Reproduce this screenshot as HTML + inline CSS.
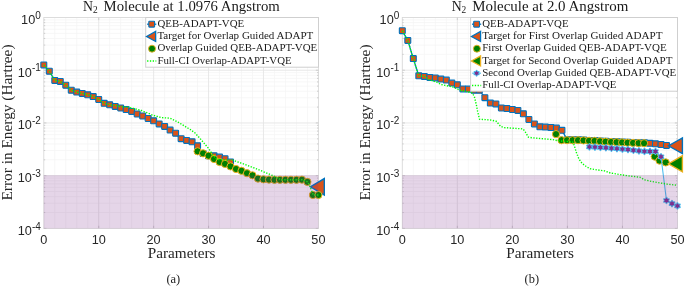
<!DOCTYPE html>
<html><head><meta charset="utf-8"><title>N2 Molecule ADAPT-VQE</title>
<style>
html,body{margin:0;padding:0;background:#fff}
svg{display:block}
.tk{font-family:"Liberation Sans",Arial,sans-serif;font-size:12.7px;fill:#262626}
.lg{font-family:"Liberation Serif","Times New Roman",serif;font-size:10.3px;fill:#1a1a1a}
.ti{font-family:"Liberation Serif","Times New Roman",serif;font-size:13.8px;fill:#1a1a1a}
.lb{font-family:"Liberation Serif","Times New Roman",serif;font-size:14.6px;fill:#262626}
.cp{font-family:"Liberation Serif","Times New Roman",serif;font-size:12.2px;fill:#222}
</style></head>
<body>
<svg width="685" height="286" viewBox="0 0 685 286">
<rect width="685" height="286" fill="#fff"/>
<rect x="43.8" y="17.5" width="274.60" height="210.90" fill="#fff"/>
<path d="M54.78 17.5V228.4M65.77 17.5V228.4M76.75 17.5V228.4M87.74 17.5V228.4M109.70 17.5V228.4M120.69 17.5V228.4M131.67 17.5V228.4M142.66 17.5V228.4M164.62 17.5V228.4M175.61 17.5V228.4M186.59 17.5V228.4M197.58 17.5V228.4M219.54 17.5V228.4M230.53 17.5V228.4M241.51 17.5V228.4M252.50 17.5V228.4M274.46 17.5V228.4M285.45 17.5V228.4M296.43 17.5V228.4M307.42 17.5V228.4M43.8 54.35H318.4M43.8 45.07H318.4M43.8 38.48H318.4M43.8 33.37H318.4M43.8 29.20H318.4M43.8 25.67H318.4M43.8 22.61H318.4M43.8 19.91H318.4M43.8 107.08H318.4M43.8 97.79H318.4M43.8 91.21H318.4M43.8 86.10H318.4M43.8 81.92H318.4M43.8 78.39H318.4M43.8 75.33H318.4M43.8 72.64H318.4M43.8 159.80H318.4M43.8 150.52H318.4M43.8 143.93H318.4M43.8 138.82H318.4M43.8 134.65H318.4M43.8 131.12H318.4M43.8 128.06H318.4M43.8 125.36H318.4M43.8 212.53H318.4M43.8 203.24H318.4M43.8 196.66H318.4M43.8 191.55H318.4M43.8 187.37H318.4M43.8 183.84H318.4M43.8 180.78H318.4M43.8 178.09H318.4" stroke="#f4f4f4" stroke-width="0.75" fill="none"/>
<path d="M98.72 17.5V228.4M153.64 17.5V228.4M208.56 17.5V228.4M263.48 17.5V228.4M43.8 70.22H318.4M43.8 122.95H318.4M43.8 175.68H318.4" stroke="#e5e5e5" stroke-width="0.9" fill="none"/>
<rect x="43.8" y="17.5" width="274.60" height="210.90" fill="none" stroke="#d9d9d9" stroke-width="0.9"/>
<path d="M43.8 70.22h2.6M318.4 70.22h-2.6M43.8 54.35h1.4M318.4 54.35h-1.4M43.8 45.07h1.4M318.4 45.07h-1.4M43.8 38.48h1.4M318.4 38.48h-1.4M43.8 33.37h1.4M318.4 33.37h-1.4M43.8 29.20h1.4M318.4 29.20h-1.4M43.8 25.67h1.4M318.4 25.67h-1.4M43.8 22.61h1.4M318.4 22.61h-1.4M43.8 19.91h1.4M318.4 19.91h-1.4M43.8 122.95h2.6M318.4 122.95h-2.6M43.8 107.08h1.4M318.4 107.08h-1.4M43.8 97.79h1.4M318.4 97.79h-1.4M43.8 91.21h1.4M318.4 91.21h-1.4M43.8 86.10h1.4M318.4 86.10h-1.4M43.8 81.92h1.4M318.4 81.92h-1.4M43.8 78.39h1.4M318.4 78.39h-1.4M43.8 75.33h1.4M318.4 75.33h-1.4M43.8 72.64h1.4M318.4 72.64h-1.4M43.8 175.68h2.6M318.4 175.68h-2.6M43.8 159.80h1.4M318.4 159.80h-1.4M43.8 150.52h1.4M318.4 150.52h-1.4M43.8 143.93h1.4M318.4 143.93h-1.4M43.8 138.82h1.4M318.4 138.82h-1.4M43.8 134.65h1.4M318.4 134.65h-1.4M43.8 131.12h1.4M318.4 131.12h-1.4M43.8 128.06h1.4M318.4 128.06h-1.4M43.8 125.36h1.4M318.4 125.36h-1.4M43.8 228.40h2.6M318.4 228.40h-2.6M43.8 212.53h1.4M318.4 212.53h-1.4M43.8 203.24h1.4M318.4 203.24h-1.4M43.8 196.66h1.4M318.4 196.66h-1.4M43.8 191.55h1.4M318.4 191.55h-1.4M43.8 187.37h1.4M318.4 187.37h-1.4M43.8 183.84h1.4M318.4 183.84h-1.4M43.8 180.78h1.4M318.4 180.78h-1.4M43.8 178.09h1.4M318.4 178.09h-1.4M98.72 228.4v-2.6M98.72 17.5v2.6M153.64 228.4v-2.6M153.64 17.5v2.6M208.56 228.4v-2.6M208.56 17.5v2.6M263.48 228.4v-2.6M263.48 17.5v2.6" stroke="#c4c4c4" stroke-width="0.8" fill="none"/>
<path d="M43.80 64.90L49.29 71.20L54.78 80.40L60.28 81.40L65.77 85.20L71.26 90.20L76.75 92.10L82.24 93.40L87.74 94.80L93.23 96.60L98.72 99.50L104.21 103.30L109.70 104.80L115.20 106.40L120.69 108.00L126.18 109.60L131.67 111.40L137.16 114.00L142.66 116.00L148.15 118.50L153.64 120.80L159.13 123.90L164.62 126.40L170.12 130.10L175.61 133.20L181.10 138.70L186.59 140.40L192.08 141.80L197.58 145.80L203.07 153.40L208.56 155.80L214.05 155.80L219.54 157.10L225.04 158.70L230.53 162.00" fill="none" stroke="#0072bd" stroke-width="1.3" stroke-linejoin="round"/>
<rect x="40.85" y="61.95" width="5.9" height="5.9" rx="0.6" fill="#d95319" stroke="#0072bd" stroke-width="1.1"/>
<rect x="46.34" y="68.25" width="5.9" height="5.9" rx="0.6" fill="#d95319" stroke="#0072bd" stroke-width="1.1"/>
<rect x="51.83" y="77.45" width="5.9" height="5.9" rx="0.6" fill="#d95319" stroke="#0072bd" stroke-width="1.1"/>
<rect x="57.33" y="78.45" width="5.9" height="5.9" rx="0.6" fill="#d95319" stroke="#0072bd" stroke-width="1.1"/>
<rect x="62.82" y="82.25" width="5.9" height="5.9" rx="0.6" fill="#d95319" stroke="#0072bd" stroke-width="1.1"/>
<rect x="68.31" y="87.25" width="5.9" height="5.9" rx="0.6" fill="#d95319" stroke="#0072bd" stroke-width="1.1"/>
<rect x="73.80" y="89.15" width="5.9" height="5.9" rx="0.6" fill="#d95319" stroke="#0072bd" stroke-width="1.1"/>
<rect x="79.29" y="90.45" width="5.9" height="5.9" rx="0.6" fill="#d95319" stroke="#0072bd" stroke-width="1.1"/>
<rect x="84.79" y="91.85" width="5.9" height="5.9" rx="0.6" fill="#d95319" stroke="#0072bd" stroke-width="1.1"/>
<rect x="90.28" y="93.65" width="5.9" height="5.9" rx="0.6" fill="#d95319" stroke="#0072bd" stroke-width="1.1"/>
<rect x="95.77" y="96.55" width="5.9" height="5.9" rx="0.6" fill="#d95319" stroke="#0072bd" stroke-width="1.1"/>
<rect x="101.26" y="100.35" width="5.9" height="5.9" rx="0.6" fill="#d95319" stroke="#0072bd" stroke-width="1.1"/>
<rect x="106.75" y="101.85" width="5.9" height="5.9" rx="0.6" fill="#d95319" stroke="#0072bd" stroke-width="1.1"/>
<rect x="112.25" y="103.45" width="5.9" height="5.9" rx="0.6" fill="#d95319" stroke="#0072bd" stroke-width="1.1"/>
<rect x="117.74" y="105.05" width="5.9" height="5.9" rx="0.6" fill="#d95319" stroke="#0072bd" stroke-width="1.1"/>
<rect x="123.23" y="106.65" width="5.9" height="5.9" rx="0.6" fill="#d95319" stroke="#0072bd" stroke-width="1.1"/>
<rect x="128.72" y="108.45" width="5.9" height="5.9" rx="0.6" fill="#d95319" stroke="#0072bd" stroke-width="1.1"/>
<rect x="134.21" y="111.05" width="5.9" height="5.9" rx="0.6" fill="#d95319" stroke="#0072bd" stroke-width="1.1"/>
<rect x="139.71" y="113.05" width="5.9" height="5.9" rx="0.6" fill="#d95319" stroke="#0072bd" stroke-width="1.1"/>
<rect x="145.20" y="115.55" width="5.9" height="5.9" rx="0.6" fill="#d95319" stroke="#0072bd" stroke-width="1.1"/>
<rect x="150.69" y="117.85" width="5.9" height="5.9" rx="0.6" fill="#d95319" stroke="#0072bd" stroke-width="1.1"/>
<rect x="156.18" y="120.95" width="5.9" height="5.9" rx="0.6" fill="#d95319" stroke="#0072bd" stroke-width="1.1"/>
<rect x="161.67" y="123.45" width="5.9" height="5.9" rx="0.6" fill="#d95319" stroke="#0072bd" stroke-width="1.1"/>
<rect x="167.17" y="127.15" width="5.9" height="5.9" rx="0.6" fill="#d95319" stroke="#0072bd" stroke-width="1.1"/>
<rect x="172.66" y="130.25" width="5.9" height="5.9" rx="0.6" fill="#d95319" stroke="#0072bd" stroke-width="1.1"/>
<rect x="178.15" y="135.75" width="5.9" height="5.9" rx="0.6" fill="#d95319" stroke="#0072bd" stroke-width="1.1"/>
<rect x="183.64" y="137.45" width="5.9" height="5.9" rx="0.6" fill="#d95319" stroke="#0072bd" stroke-width="1.1"/>
<rect x="189.13" y="138.85" width="5.9" height="5.9" rx="0.6" fill="#d95319" stroke="#0072bd" stroke-width="1.1"/>
<rect x="194.63" y="142.85" width="5.9" height="5.9" rx="0.6" fill="#d95319" stroke="#0072bd" stroke-width="1.1"/>
<rect x="200.12" y="150.45" width="5.9" height="5.9" rx="0.6" fill="#d95319" stroke="#0072bd" stroke-width="1.1"/>
<rect x="205.61" y="152.85" width="5.9" height="5.9" rx="0.6" fill="#d95319" stroke="#0072bd" stroke-width="1.1"/>
<rect x="211.10" y="152.85" width="5.9" height="5.9" rx="0.6" fill="#d95319" stroke="#0072bd" stroke-width="1.1"/>
<rect x="216.59" y="154.15" width="5.9" height="5.9" rx="0.6" fill="#d95319" stroke="#0072bd" stroke-width="1.1"/>
<rect x="222.09" y="155.75" width="5.9" height="5.9" rx="0.6" fill="#d95319" stroke="#0072bd" stroke-width="1.1"/>
<rect x="227.58" y="159.05" width="5.9" height="5.9" rx="0.6" fill="#d95319" stroke="#0072bd" stroke-width="1.1"/>
<polygon points="310.37,186.80 324.30,178.53 324.30,195.07" fill="#d95319" stroke="#0072bd" stroke-width="1.4" stroke-linejoin="miter"/>
<circle cx="197.58" cy="151.30" r="3.6" fill="#008000" stroke="#edb120" stroke-width="1.0"/>
<circle cx="203.07" cy="153.30" r="3.6" fill="#008000" stroke="#edb120" stroke-width="1.0"/>
<circle cx="208.56" cy="155.70" r="3.6" fill="#008000" stroke="#edb120" stroke-width="1.0"/>
<circle cx="214.05" cy="159.00" r="3.6" fill="#008000" stroke="#edb120" stroke-width="1.0"/>
<circle cx="219.54" cy="162.00" r="3.6" fill="#008000" stroke="#edb120" stroke-width="1.0"/>
<circle cx="225.04" cy="163.90" r="3.6" fill="#008000" stroke="#edb120" stroke-width="1.0"/>
<circle cx="230.53" cy="166.40" r="3.6" fill="#008000" stroke="#edb120" stroke-width="1.0"/>
<circle cx="236.02" cy="169.00" r="3.6" fill="#008000" stroke="#edb120" stroke-width="1.0"/>
<circle cx="241.51" cy="170.80" r="3.6" fill="#008000" stroke="#edb120" stroke-width="1.0"/>
<circle cx="247.00" cy="173.20" r="3.6" fill="#008000" stroke="#edb120" stroke-width="1.0"/>
<circle cx="252.50" cy="175.30" r="3.6" fill="#008000" stroke="#edb120" stroke-width="1.0"/>
<circle cx="257.99" cy="178.60" r="3.6" fill="#008000" stroke="#edb120" stroke-width="1.0"/>
<circle cx="263.48" cy="179.30" r="3.6" fill="#008000" stroke="#edb120" stroke-width="1.0"/>
<circle cx="268.97" cy="179.60" r="3.6" fill="#008000" stroke="#edb120" stroke-width="1.0"/>
<circle cx="274.46" cy="179.80" r="3.6" fill="#008000" stroke="#edb120" stroke-width="1.0"/>
<circle cx="279.96" cy="179.80" r="3.6" fill="#008000" stroke="#edb120" stroke-width="1.0"/>
<circle cx="285.45" cy="179.80" r="3.6" fill="#008000" stroke="#edb120" stroke-width="1.0"/>
<circle cx="290.94" cy="179.80" r="3.6" fill="#008000" stroke="#edb120" stroke-width="1.0"/>
<circle cx="296.43" cy="179.80" r="3.6" fill="#008000" stroke="#edb120" stroke-width="1.0"/>
<circle cx="301.92" cy="179.70" r="3.6" fill="#008000" stroke="#edb120" stroke-width="1.0"/>
<circle cx="307.42" cy="181.90" r="3.6" fill="#008000" stroke="#edb120" stroke-width="1.0"/>
<circle cx="312.91" cy="195.00" r="3.6" fill="#008000" stroke="#edb120" stroke-width="1.0"/>
<circle cx="318.40" cy="195.00" r="3.6" fill="#008000" stroke="#edb120" stroke-width="1.0"/>
<path d="M43.80 64.90L49.29 71.20L54.78 80.40L60.28 81.40L65.77 85.20L71.26 90.20L76.75 92.10L82.24 93.40L87.74 94.80L93.23 96.60L98.72 99.50L104.21 103.30L109.70 104.80L115.20 105.60L120.60 106.60L129.00 107.30L141.50 110.50L152.60 115.10L161.40 117.60L170.20 118.20L177.80 122.00L184.10 125.80L190.40 129.60L195.40 133.30L201.70 140.40L208.90 148.80L213.30 155.70L217.10 159.50L232.80 160.20L245.40 164.60L255.70 168.50L272.50 175.50L278.00 178.30L281.00 179.70L302.30 179.70L308.00 182.00L311.20 189.60L313.20 195.00L318.40 195.00" fill="none" stroke="#00ff00" stroke-width="1.4" stroke-dasharray="1.3 1.5" stroke-linejoin="round"/>
<rect x="43.8" y="175.3" width="274.60" height="53.10" fill="#7e2f8e" fill-opacity="0.2"/>
<text x="40.80" y="23.90" text-anchor="end" class="tk">10<tspan dy="-5.2" font-size="10">0</tspan></text>
<text x="40.80" y="76.62" text-anchor="end" class="tk">10<tspan dy="-5.2" font-size="10">-1</tspan></text>
<text x="40.80" y="129.35" text-anchor="end" class="tk">10<tspan dy="-5.2" font-size="10">-2</tspan></text>
<text x="40.80" y="182.08" text-anchor="end" class="tk">10<tspan dy="-5.2" font-size="10">-3</tspan></text>
<text x="40.80" y="234.80" text-anchor="end" class="tk">10<tspan dy="-5.2" font-size="10">-4</tspan></text>
<text x="43.80" y="243.9" text-anchor="middle" class="tk">0</text>
<text x="98.72" y="243.9" text-anchor="middle" class="tk">10</text>
<text x="153.64" y="243.9" text-anchor="middle" class="tk">20</text>
<text x="208.56" y="243.9" text-anchor="middle" class="tk">30</text>
<text x="263.48" y="243.9" text-anchor="middle" class="tk">40</text>
<text x="318.40" y="243.9" text-anchor="middle" class="tk">50</text>
<rect x="402.3" y="17.5" width="275.20" height="210.90" fill="#fff"/>
<path d="M413.31 17.5V228.4M424.32 17.5V228.4M435.32 17.5V228.4M446.33 17.5V228.4M468.35 17.5V228.4M479.36 17.5V228.4M490.36 17.5V228.4M501.37 17.5V228.4M523.39 17.5V228.4M534.40 17.5V228.4M545.40 17.5V228.4M556.41 17.5V228.4M578.43 17.5V228.4M589.44 17.5V228.4M600.44 17.5V228.4M611.45 17.5V228.4M633.47 17.5V228.4M644.48 17.5V228.4M655.48 17.5V228.4M666.49 17.5V228.4M402.3 54.35H677.5M402.3 45.07H677.5M402.3 38.48H677.5M402.3 33.37H677.5M402.3 29.20H677.5M402.3 25.67H677.5M402.3 22.61H677.5M402.3 19.91H677.5M402.3 107.08H677.5M402.3 97.79H677.5M402.3 91.21H677.5M402.3 86.10H677.5M402.3 81.92H677.5M402.3 78.39H677.5M402.3 75.33H677.5M402.3 72.64H677.5M402.3 159.80H677.5M402.3 150.52H677.5M402.3 143.93H677.5M402.3 138.82H677.5M402.3 134.65H677.5M402.3 131.12H677.5M402.3 128.06H677.5M402.3 125.36H677.5M402.3 212.53H677.5M402.3 203.24H677.5M402.3 196.66H677.5M402.3 191.55H677.5M402.3 187.37H677.5M402.3 183.84H677.5M402.3 180.78H677.5M402.3 178.09H677.5" stroke="#f4f4f4" stroke-width="0.75" fill="none"/>
<path d="M457.34 17.5V228.4M512.38 17.5V228.4M567.42 17.5V228.4M622.46 17.5V228.4M402.3 70.22H677.5M402.3 122.95H677.5M402.3 175.68H677.5" stroke="#e5e5e5" stroke-width="0.9" fill="none"/>
<rect x="402.3" y="17.5" width="275.20" height="210.90" fill="none" stroke="#d9d9d9" stroke-width="0.9"/>
<path d="M402.3 70.22h2.6M677.5 70.22h-2.6M402.3 54.35h1.4M677.5 54.35h-1.4M402.3 45.07h1.4M677.5 45.07h-1.4M402.3 38.48h1.4M677.5 38.48h-1.4M402.3 33.37h1.4M677.5 33.37h-1.4M402.3 29.20h1.4M677.5 29.20h-1.4M402.3 25.67h1.4M677.5 25.67h-1.4M402.3 22.61h1.4M677.5 22.61h-1.4M402.3 19.91h1.4M677.5 19.91h-1.4M402.3 122.95h2.6M677.5 122.95h-2.6M402.3 107.08h1.4M677.5 107.08h-1.4M402.3 97.79h1.4M677.5 97.79h-1.4M402.3 91.21h1.4M677.5 91.21h-1.4M402.3 86.10h1.4M677.5 86.10h-1.4M402.3 81.92h1.4M677.5 81.92h-1.4M402.3 78.39h1.4M677.5 78.39h-1.4M402.3 75.33h1.4M677.5 75.33h-1.4M402.3 72.64h1.4M677.5 72.64h-1.4M402.3 175.68h2.6M677.5 175.68h-2.6M402.3 159.80h1.4M677.5 159.80h-1.4M402.3 150.52h1.4M677.5 150.52h-1.4M402.3 143.93h1.4M677.5 143.93h-1.4M402.3 138.82h1.4M677.5 138.82h-1.4M402.3 134.65h1.4M677.5 134.65h-1.4M402.3 131.12h1.4M677.5 131.12h-1.4M402.3 128.06h1.4M677.5 128.06h-1.4M402.3 125.36h1.4M677.5 125.36h-1.4M402.3 228.40h2.6M677.5 228.40h-2.6M402.3 212.53h1.4M677.5 212.53h-1.4M402.3 203.24h1.4M677.5 203.24h-1.4M402.3 196.66h1.4M677.5 196.66h-1.4M402.3 191.55h1.4M677.5 191.55h-1.4M402.3 187.37h1.4M677.5 187.37h-1.4M402.3 183.84h1.4M677.5 183.84h-1.4M402.3 180.78h1.4M677.5 180.78h-1.4M402.3 178.09h1.4M677.5 178.09h-1.4M457.34 228.4v-2.6M457.34 17.5v2.6M512.38 228.4v-2.6M512.38 17.5v2.6M567.42 228.4v-2.6M567.42 17.5v2.6M622.46 228.4v-2.6M622.46 17.5v2.6" stroke="#c4c4c4" stroke-width="0.8" fill="none"/>
<path d="M402.30 30.70L407.80 40.40L413.31 58.60L418.81 75.80L424.32 76.40L429.82 77.40L435.32 77.90L440.83 79.10L446.33 80.10L451.84 83.10L457.34 84.80L462.84 88.90L468.35 89.10L473.85 90.20L479.36 90.20L484.86 97.70L490.36 103.10L495.87 103.90L501.37 108.00L506.88 108.50L512.38 109.50L517.88 110.40L523.39 113.80L528.89 119.50L534.40 123.90L539.90 126.80L545.40 127.10L550.91 127.50L556.41 128.10L561.92 130.30L567.42 139.80L572.92 139.80L578.43 139.80L583.93 140.00L589.44 140.40L594.94 140.50L600.44 140.90L605.95 141.30L611.45 141.60L616.96 141.80L622.46 142.00L627.96 142.30L633.47 142.50L638.97 142.70L644.48 142.80L649.98 143.30L655.48 143.80L660.99 144.50L666.49 145.40" fill="none" stroke="#0072bd" stroke-width="1.3" stroke-linejoin="round"/>
<rect x="399.35" y="27.75" width="5.9" height="5.9" rx="0.6" fill="#d95319" stroke="#0072bd" stroke-width="1.1"/>
<rect x="404.85" y="37.45" width="5.9" height="5.9" rx="0.6" fill="#d95319" stroke="#0072bd" stroke-width="1.1"/>
<rect x="410.36" y="55.65" width="5.9" height="5.9" rx="0.6" fill="#d95319" stroke="#0072bd" stroke-width="1.1"/>
<rect x="415.86" y="72.85" width="5.9" height="5.9" rx="0.6" fill="#d95319" stroke="#0072bd" stroke-width="1.1"/>
<rect x="421.37" y="73.45" width="5.9" height="5.9" rx="0.6" fill="#d95319" stroke="#0072bd" stroke-width="1.1"/>
<rect x="426.87" y="74.45" width="5.9" height="5.9" rx="0.6" fill="#d95319" stroke="#0072bd" stroke-width="1.1"/>
<rect x="432.37" y="74.95" width="5.9" height="5.9" rx="0.6" fill="#d95319" stroke="#0072bd" stroke-width="1.1"/>
<rect x="437.88" y="76.15" width="5.9" height="5.9" rx="0.6" fill="#d95319" stroke="#0072bd" stroke-width="1.1"/>
<rect x="443.38" y="77.15" width="5.9" height="5.9" rx="0.6" fill="#d95319" stroke="#0072bd" stroke-width="1.1"/>
<rect x="448.89" y="80.15" width="5.9" height="5.9" rx="0.6" fill="#d95319" stroke="#0072bd" stroke-width="1.1"/>
<rect x="454.39" y="81.85" width="5.9" height="5.9" rx="0.6" fill="#d95319" stroke="#0072bd" stroke-width="1.1"/>
<rect x="459.89" y="85.95" width="5.9" height="5.9" rx="0.6" fill="#d95319" stroke="#0072bd" stroke-width="1.1"/>
<rect x="465.40" y="86.15" width="5.9" height="5.9" rx="0.6" fill="#d95319" stroke="#0072bd" stroke-width="1.1"/>
<rect x="470.90" y="87.25" width="5.9" height="5.9" rx="0.6" fill="#d95319" stroke="#0072bd" stroke-width="1.1"/>
<rect x="476.41" y="87.25" width="5.9" height="5.9" rx="0.6" fill="#d95319" stroke="#0072bd" stroke-width="1.1"/>
<rect x="481.91" y="94.75" width="5.9" height="5.9" rx="0.6" fill="#d95319" stroke="#0072bd" stroke-width="1.1"/>
<rect x="487.41" y="100.15" width="5.9" height="5.9" rx="0.6" fill="#d95319" stroke="#0072bd" stroke-width="1.1"/>
<rect x="492.92" y="100.95" width="5.9" height="5.9" rx="0.6" fill="#d95319" stroke="#0072bd" stroke-width="1.1"/>
<rect x="498.42" y="105.05" width="5.9" height="5.9" rx="0.6" fill="#d95319" stroke="#0072bd" stroke-width="1.1"/>
<rect x="503.93" y="105.55" width="5.9" height="5.9" rx="0.6" fill="#d95319" stroke="#0072bd" stroke-width="1.1"/>
<rect x="509.43" y="106.55" width="5.9" height="5.9" rx="0.6" fill="#d95319" stroke="#0072bd" stroke-width="1.1"/>
<rect x="514.93" y="107.45" width="5.9" height="5.9" rx="0.6" fill="#d95319" stroke="#0072bd" stroke-width="1.1"/>
<rect x="520.44" y="110.85" width="5.9" height="5.9" rx="0.6" fill="#d95319" stroke="#0072bd" stroke-width="1.1"/>
<rect x="525.94" y="116.55" width="5.9" height="5.9" rx="0.6" fill="#d95319" stroke="#0072bd" stroke-width="1.1"/>
<rect x="531.45" y="120.95" width="5.9" height="5.9" rx="0.6" fill="#d95319" stroke="#0072bd" stroke-width="1.1"/>
<rect x="536.95" y="123.85" width="5.9" height="5.9" rx="0.6" fill="#d95319" stroke="#0072bd" stroke-width="1.1"/>
<rect x="542.45" y="124.15" width="5.9" height="5.9" rx="0.6" fill="#d95319" stroke="#0072bd" stroke-width="1.1"/>
<rect x="547.96" y="124.55" width="5.9" height="5.9" rx="0.6" fill="#d95319" stroke="#0072bd" stroke-width="1.1"/>
<rect x="553.46" y="125.15" width="5.9" height="5.9" rx="0.6" fill="#d95319" stroke="#0072bd" stroke-width="1.1"/>
<rect x="558.97" y="127.35" width="5.9" height="5.9" rx="0.6" fill="#d95319" stroke="#0072bd" stroke-width="1.1"/>
<rect x="564.47" y="136.85" width="5.9" height="5.9" rx="0.6" fill="#d95319" stroke="#0072bd" stroke-width="1.1"/>
<rect x="569.97" y="136.85" width="5.9" height="5.9" rx="0.6" fill="#d95319" stroke="#0072bd" stroke-width="1.1"/>
<rect x="575.48" y="136.85" width="5.9" height="5.9" rx="0.6" fill="#d95319" stroke="#0072bd" stroke-width="1.1"/>
<rect x="580.98" y="137.05" width="5.9" height="5.9" rx="0.6" fill="#d95319" stroke="#0072bd" stroke-width="1.1"/>
<rect x="586.49" y="137.45" width="5.9" height="5.9" rx="0.6" fill="#d95319" stroke="#0072bd" stroke-width="1.1"/>
<rect x="591.99" y="137.55" width="5.9" height="5.9" rx="0.6" fill="#d95319" stroke="#0072bd" stroke-width="1.1"/>
<rect x="597.49" y="137.95" width="5.9" height="5.9" rx="0.6" fill="#d95319" stroke="#0072bd" stroke-width="1.1"/>
<rect x="603.00" y="138.35" width="5.9" height="5.9" rx="0.6" fill="#d95319" stroke="#0072bd" stroke-width="1.1"/>
<rect x="608.50" y="138.65" width="5.9" height="5.9" rx="0.6" fill="#d95319" stroke="#0072bd" stroke-width="1.1"/>
<rect x="614.01" y="138.85" width="5.9" height="5.9" rx="0.6" fill="#d95319" stroke="#0072bd" stroke-width="1.1"/>
<rect x="619.51" y="139.05" width="5.9" height="5.9" rx="0.6" fill="#d95319" stroke="#0072bd" stroke-width="1.1"/>
<rect x="625.01" y="139.35" width="5.9" height="5.9" rx="0.6" fill="#d95319" stroke="#0072bd" stroke-width="1.1"/>
<rect x="630.52" y="139.55" width="5.9" height="5.9" rx="0.6" fill="#d95319" stroke="#0072bd" stroke-width="1.1"/>
<rect x="636.02" y="139.75" width="5.9" height="5.9" rx="0.6" fill="#d95319" stroke="#0072bd" stroke-width="1.1"/>
<rect x="641.53" y="139.85" width="5.9" height="5.9" rx="0.6" fill="#d95319" stroke="#0072bd" stroke-width="1.1"/>
<rect x="647.03" y="140.35" width="5.9" height="5.9" rx="0.6" fill="#d95319" stroke="#0072bd" stroke-width="1.1"/>
<rect x="652.53" y="140.85" width="5.9" height="5.9" rx="0.6" fill="#d95319" stroke="#0072bd" stroke-width="1.1"/>
<rect x="658.04" y="141.55" width="5.9" height="5.9" rx="0.6" fill="#d95319" stroke="#0072bd" stroke-width="1.1"/>
<rect x="663.54" y="142.45" width="5.9" height="5.9" rx="0.6" fill="#d95319" stroke="#0072bd" stroke-width="1.1"/>
<polygon points="668.43,145.80 682.40,137.99 682.40,153.61" fill="#d95319" stroke="#0072bd" stroke-width="1.4" stroke-linejoin="miter"/>
<circle cx="556.01" cy="134.10" r="3.6" fill="#008000" stroke="#edb120" stroke-width="1.0"/>
<circle cx="561.52" cy="140.20" r="3.6" fill="#008000" stroke="#edb120" stroke-width="1.0"/>
<circle cx="567.02" cy="140.20" r="3.6" fill="#008000" stroke="#edb120" stroke-width="1.0"/>
<circle cx="572.52" cy="140.20" r="3.6" fill="#008000" stroke="#edb120" stroke-width="1.0"/>
<circle cx="578.03" cy="140.20" r="3.6" fill="#008000" stroke="#edb120" stroke-width="1.0"/>
<circle cx="583.53" cy="140.40" r="3.6" fill="#008000" stroke="#edb120" stroke-width="1.0"/>
<circle cx="589.04" cy="140.80" r="3.6" fill="#008000" stroke="#edb120" stroke-width="1.0"/>
<circle cx="594.54" cy="140.90" r="3.6" fill="#008000" stroke="#edb120" stroke-width="1.0"/>
<circle cx="600.04" cy="141.30" r="3.6" fill="#008000" stroke="#edb120" stroke-width="1.0"/>
<circle cx="605.55" cy="141.70" r="3.6" fill="#008000" stroke="#edb120" stroke-width="1.0"/>
<circle cx="611.05" cy="142.00" r="3.6" fill="#008000" stroke="#edb120" stroke-width="1.0"/>
<circle cx="616.56" cy="142.20" r="3.6" fill="#008000" stroke="#edb120" stroke-width="1.0"/>
<circle cx="622.06" cy="142.40" r="3.6" fill="#008000" stroke="#edb120" stroke-width="1.0"/>
<circle cx="627.56" cy="142.70" r="3.6" fill="#008000" stroke="#edb120" stroke-width="1.0"/>
<circle cx="633.07" cy="142.90" r="3.6" fill="#008000" stroke="#edb120" stroke-width="1.0"/>
<circle cx="638.57" cy="143.10" r="3.6" fill="#008000" stroke="#edb120" stroke-width="1.0"/>
<circle cx="644.08" cy="143.20" r="3.6" fill="#008000" stroke="#edb120" stroke-width="1.0"/>
<circle cx="654.70" cy="156.60" r="3.6" fill="#008000" stroke="#edb120" stroke-width="1.0"/>
<circle cx="659.50" cy="160.60" r="3.6" fill="#008000" stroke="#edb120" stroke-width="1.0"/>
<circle cx="665.70" cy="162.40" r="3.6" fill="#008000" stroke="#edb120" stroke-width="1.0"/>
<polygon points="668.40,163.80 682.40,155.71 682.40,171.89" fill="#008000" stroke="#edb120" stroke-width="1.4" stroke-linejoin="miter"/>
<path d="M589.44 146.85L594.94 147.15L600.44 147.45L605.95 147.75L611.45 148.25L616.96 148.65L622.46 149.15L627.96 149.55L633.47 150.25L638.97 150.85L644.48 151.35L649.98 151.45L655.48 151.45L660.99 156.75L666.49 200.45L672.00 203.65L677.50 205.85" fill="none" stroke="#4dbeee" stroke-width="1.1" stroke-linejoin="round"/>
<polygon points="589.44,143.95 590.27,145.40 591.95,145.40 591.11,146.85 591.95,148.30 590.27,148.30 589.44,149.75 588.60,148.30 586.92,148.30 587.76,146.85 586.92,145.40 588.60,145.40" fill="#7e2f8e" stroke="#4dbeee" stroke-width="1.7" paint-order="stroke" stroke-linejoin="round"/>
<polygon points="594.94,144.25 595.78,145.70 597.45,145.70 596.61,147.15 597.45,148.60 595.78,148.60 594.94,150.05 594.10,148.60 592.43,148.60 593.27,147.15 592.43,145.70 594.10,145.70" fill="#7e2f8e" stroke="#4dbeee" stroke-width="1.7" paint-order="stroke" stroke-linejoin="round"/>
<polygon points="600.44,144.55 601.28,146.00 602.96,146.00 602.12,147.45 602.96,148.90 601.28,148.90 600.44,150.35 599.61,148.90 597.93,148.90 598.77,147.45 597.93,146.00 599.61,146.00" fill="#7e2f8e" stroke="#4dbeee" stroke-width="1.7" paint-order="stroke" stroke-linejoin="round"/>
<polygon points="605.95,144.85 606.78,146.30 608.46,146.30 607.62,147.75 608.46,149.20 606.78,149.20 605.95,150.65 605.11,149.20 603.44,149.20 604.27,147.75 603.44,146.30 605.11,146.30" fill="#7e2f8e" stroke="#4dbeee" stroke-width="1.7" paint-order="stroke" stroke-linejoin="round"/>
<polygon points="611.45,145.35 612.29,146.80 613.96,146.80 613.13,148.25 613.96,149.70 612.29,149.70 611.45,151.15 610.62,149.70 608.94,149.70 609.78,148.25 608.94,146.80 610.62,146.80" fill="#7e2f8e" stroke="#4dbeee" stroke-width="1.7" paint-order="stroke" stroke-linejoin="round"/>
<polygon points="616.96,145.75 617.79,147.20 619.47,147.20 618.63,148.65 619.47,150.10 617.79,150.10 616.96,151.55 616.12,150.10 614.44,150.10 615.28,148.65 614.44,147.20 616.12,147.20" fill="#7e2f8e" stroke="#4dbeee" stroke-width="1.7" paint-order="stroke" stroke-linejoin="round"/>
<polygon points="622.46,146.25 623.30,147.70 624.97,147.70 624.13,149.15 624.97,150.60 623.30,150.60 622.46,152.05 621.62,150.60 619.95,150.60 620.79,149.15 619.95,147.70 621.62,147.70" fill="#7e2f8e" stroke="#4dbeee" stroke-width="1.7" paint-order="stroke" stroke-linejoin="round"/>
<polygon points="627.96,146.65 628.80,148.10 630.48,148.10 629.64,149.55 630.48,151.00 628.80,151.00 627.96,152.45 627.13,151.00 625.45,151.00 626.29,149.55 625.45,148.10 627.13,148.10" fill="#7e2f8e" stroke="#4dbeee" stroke-width="1.7" paint-order="stroke" stroke-linejoin="round"/>
<polygon points="633.47,147.35 634.30,148.80 635.98,148.80 635.14,150.25 635.98,151.70 634.30,151.70 633.47,153.15 632.63,151.70 630.96,151.70 631.79,150.25 630.96,148.80 632.63,148.80" fill="#7e2f8e" stroke="#4dbeee" stroke-width="1.7" paint-order="stroke" stroke-linejoin="round"/>
<polygon points="638.97,147.95 639.81,149.40 641.48,149.40 640.65,150.85 641.48,152.30 639.81,152.30 638.97,153.75 638.14,152.30 636.46,152.30 637.30,150.85 636.46,149.40 638.14,149.40" fill="#7e2f8e" stroke="#4dbeee" stroke-width="1.7" paint-order="stroke" stroke-linejoin="round"/>
<polygon points="644.48,148.45 645.31,149.90 646.99,149.90 646.15,151.35 646.99,152.80 645.31,152.80 644.48,154.25 643.64,152.80 641.96,152.80 642.80,151.35 641.96,149.90 643.64,149.90" fill="#7e2f8e" stroke="#4dbeee" stroke-width="1.7" paint-order="stroke" stroke-linejoin="round"/>
<polygon points="649.98,148.55 650.82,150.00 652.49,150.00 651.65,151.45 652.49,152.90 650.82,152.90 649.98,154.35 649.14,152.90 647.47,152.90 648.31,151.45 647.47,150.00 649.14,150.00" fill="#7e2f8e" stroke="#4dbeee" stroke-width="1.7" paint-order="stroke" stroke-linejoin="round"/>
<polygon points="655.48,148.55 656.32,150.00 658.00,150.00 657.16,151.45 658.00,152.90 656.32,152.90 655.48,154.35 654.65,152.90 652.97,152.90 653.81,151.45 652.97,150.00 654.65,150.00" fill="#7e2f8e" stroke="#4dbeee" stroke-width="1.7" paint-order="stroke" stroke-linejoin="round"/>
<polygon points="660.99,153.85 661.82,155.30 663.50,155.30 662.66,156.75 663.50,158.20 661.82,158.20 660.99,159.65 660.15,158.20 658.48,158.20 659.31,156.75 658.48,155.30 660.15,155.30" fill="#7e2f8e" stroke="#4dbeee" stroke-width="1.7" paint-order="stroke" stroke-linejoin="round"/>
<polygon points="666.49,197.55 667.33,199.00 669.00,199.00 668.17,200.45 669.00,201.90 667.33,201.90 666.49,203.35 665.66,201.90 663.98,201.90 664.82,200.45 663.98,199.00 665.66,199.00" fill="#7e2f8e" stroke="#4dbeee" stroke-width="1.7" paint-order="stroke" stroke-linejoin="round"/>
<polygon points="672.00,200.75 672.83,202.20 674.51,202.20 673.67,203.65 674.51,205.10 672.83,205.10 672.00,206.55 671.16,205.10 669.48,205.10 670.32,203.65 669.48,202.20 671.16,202.20" fill="#7e2f8e" stroke="#4dbeee" stroke-width="1.7" paint-order="stroke" stroke-linejoin="round"/>
<polygon points="677.50,202.95 678.34,204.40 680.01,204.40 679.17,205.85 680.01,207.30 678.34,207.30 677.50,208.75 676.66,207.30 674.99,207.30 675.83,205.85 674.99,204.40 676.66,204.40" fill="#7e2f8e" stroke="#4dbeee" stroke-width="1.7" paint-order="stroke" stroke-linejoin="round"/>
<path d="M402.30 30.70L407.80 40.40L413.31 58.60L418.81 75.80L424.32 76.40L429.00 79.60L436.60 82.10L441.30 84.50L445.40 85.50L452.70 87.00L460.20 90.20L471.60 92.70L474.20 96.00L476.40 105.00L477.60 111.40L479.50 119.20L485.00 119.60L491.30 120.10L496.30 121.30L500.70 126.40L503.90 127.60L522.70 128.90L524.60 130.80L528.40 137.10L531.60 137.70L553.00 139.60L558.00 140.80L572.10 141.70L573.20 142.50L574.50 146.30L576.40 152.60L578.90 158.90L582.00 163.30L587.10 167.10L590.20 168.70L597.80 170.00L604.70 170.90L610.40 173.00L616.70 174.00L625.50 175.50L639.70 177.20L644.90 179.90L652.30 181.60L667.00 184.10L677.50 185.30" fill="none" stroke="#00ff00" stroke-width="1.4" stroke-dasharray="1.3 1.5" stroke-linejoin="round"/>
<rect x="402.3" y="175.3" width="275.20" height="53.10" fill="#7e2f8e" fill-opacity="0.2"/>
<text x="399.30" y="23.90" text-anchor="end" class="tk">10<tspan dy="-5.2" font-size="10">0</tspan></text>
<text x="399.30" y="76.62" text-anchor="end" class="tk">10<tspan dy="-5.2" font-size="10">-1</tspan></text>
<text x="399.30" y="129.35" text-anchor="end" class="tk">10<tspan dy="-5.2" font-size="10">-2</tspan></text>
<text x="399.30" y="182.08" text-anchor="end" class="tk">10<tspan dy="-5.2" font-size="10">-3</tspan></text>
<text x="399.30" y="234.80" text-anchor="end" class="tk">10<tspan dy="-5.2" font-size="10">-4</tspan></text>
<text x="402.30" y="243.9" text-anchor="middle" class="tk">0</text>
<text x="457.34" y="243.9" text-anchor="middle" class="tk">10</text>
<text x="512.38" y="243.9" text-anchor="middle" class="tk">20</text>
<text x="567.42" y="243.9" text-anchor="middle" class="tk">30</text>
<text x="622.46" y="243.9" text-anchor="middle" class="tk">40</text>
<text x="677.50" y="243.9" text-anchor="middle" class="tk">50</text>
<rect x="145.7" y="17.5" width="172.80" height="49.70" fill="#fff" stroke="#cfcfcf" stroke-width="1"/>
<path d="M147.10 24.20H156.30" stroke="#0072bd" stroke-width="1.3"/>
<rect x="148.80" y="21.30" width="5.8" height="5.8" rx="0.6" fill="#d95319" stroke="#0072bd" stroke-width="1.1"/>
<text x="157.4" y="26.95" class="lg" textLength="86.8" lengthAdjust="spacingAndGlyphs">QEB-ADAPT-VQE</text>
<polygon points="146.54,36.45 155.65,31.40 155.65,41.50" fill="#d95319" stroke="#0072bd" stroke-width="1.3" stroke-linejoin="miter"/>
<text x="157.4" y="39.20" class="lg" textLength="155.9" lengthAdjust="spacingAndGlyphs">Target for Overlap Guided ADAPT</text>
<circle cx="152.00" cy="48.70" r="3.5" fill="#008000" stroke="#edb120" stroke-width="0.9"/>
<text x="157.4" y="51.45" class="lg" textLength="159.9" lengthAdjust="spacingAndGlyphs">Overlap Guided QEB-ADAPT-VQE</text>
<path d="M147.10 60.95H156.30" stroke="#00ff00" stroke-width="1.4" stroke-dasharray="1.3 1.5"/>
<text x="157.4" y="63.70" class="lg" textLength="134.2" lengthAdjust="spacingAndGlyphs">Full-CI Overlap-ADAPT-VQE</text>
<rect x="470.6" y="17.5" width="206.90" height="73.70" fill="#fff" stroke="#cfcfcf" stroke-width="1"/>
<path d="M472.00 24.20H481.20" stroke="#0072bd" stroke-width="1.3"/>
<rect x="473.70" y="21.30" width="5.8" height="5.8" rx="0.6" fill="#d95319" stroke="#0072bd" stroke-width="1.1"/>
<text x="482.2" y="26.95" class="lg" textLength="86.4" lengthAdjust="spacingAndGlyphs">QEB-ADAPT-VQE</text>
<polygon points="471.44,36.45 480.55,31.40 480.55,41.50" fill="#d95319" stroke="#0072bd" stroke-width="1.3" stroke-linejoin="miter"/>
<text x="482.2" y="39.20" class="lg" textLength="180.4" lengthAdjust="spacingAndGlyphs">Target for First Overlap Guided ADAPT</text>
<circle cx="476.90" cy="48.70" r="3.5" fill="#008000" stroke="#edb120" stroke-width="0.9"/>
<text x="482.2" y="51.45" class="lg" textLength="184.5" lengthAdjust="spacingAndGlyphs">First Overlap Guided QEB-ADAPT-VQE</text>
<polygon points="471.44,60.95 480.55,55.90 480.55,66.00" fill="#008000" stroke="#edb120" stroke-width="1.3" stroke-linejoin="miter"/>
<text x="482.2" y="63.70" class="lg" textLength="190.2" lengthAdjust="spacingAndGlyphs">Target for Second Overlap Guided ADAPT</text>
<path d="M472.20 73.20H481.00" stroke="#4dbeee" stroke-width="1.1"/>
<polygon points="476.60,70.60 477.35,71.90 478.85,71.90 478.10,73.20 478.85,74.50 477.35,74.50 476.60,75.80 475.85,74.50 474.35,74.50 475.10,73.20 474.35,71.90 475.85,71.90" fill="#7e2f8e" stroke="#4dbeee" stroke-width="1.7" paint-order="stroke" stroke-linejoin="round"/>
<text x="482.2" y="75.95" class="lg" textLength="194.0" lengthAdjust="spacingAndGlyphs">Second Overlap Guided QEB-ADAPT-VQE</text>
<path d="M472.00 85.45H481.20" stroke="#00ff00" stroke-width="1.4" stroke-dasharray="1.3 1.5"/>
<text x="482.2" y="88.20" class="lg" textLength="134.2" lengthAdjust="spacingAndGlyphs">Full-CI Overlap-ADAPT-VQE</text>
<text x="83.1" y="10.9" class="ti">N</text><text x="93.0" y="13.1" class="ti" style="font-size:9.4px">2</text><text x="103.6" y="10.9" class="ti" textLength="176.2" lengthAdjust="spacingAndGlyphs">Molecule at 1.0976 Angstrom</text>
<text x="451.7" y="10.9" class="ti">N</text><text x="461.6" y="13.1" class="ti" style="font-size:9.4px">2</text><text x="472.2" y="10.9" class="ti" textLength="156.1" lengthAdjust="spacingAndGlyphs">Molecule at 2.0 Angstrom</text>
<text x="147.8" y="258.4" class="lb" textLength="67.7" lengthAdjust="spacingAndGlyphs">Parameters</text>
<text x="506.3" y="258.4" class="lb" textLength="67.7" lengthAdjust="spacingAndGlyphs">Parameters</text>
<text transform="translate(11.6,200.5) rotate(-90)" class="lb" textLength="156" lengthAdjust="spacingAndGlyphs">Error in Energy (Hartree)</text>
<text transform="translate(370.1,200.5) rotate(-90)" class="lb" textLength="156" lengthAdjust="spacingAndGlyphs">Error in Energy (Hartree)</text>
<text x="166.4" y="282.8" class="cp" textLength="13.9" lengthAdjust="spacingAndGlyphs">(a)</text>
<text x="524.6" y="282.8" class="cp" textLength="14.5" lengthAdjust="spacingAndGlyphs">(b)</text>
</svg>
</body></html>
